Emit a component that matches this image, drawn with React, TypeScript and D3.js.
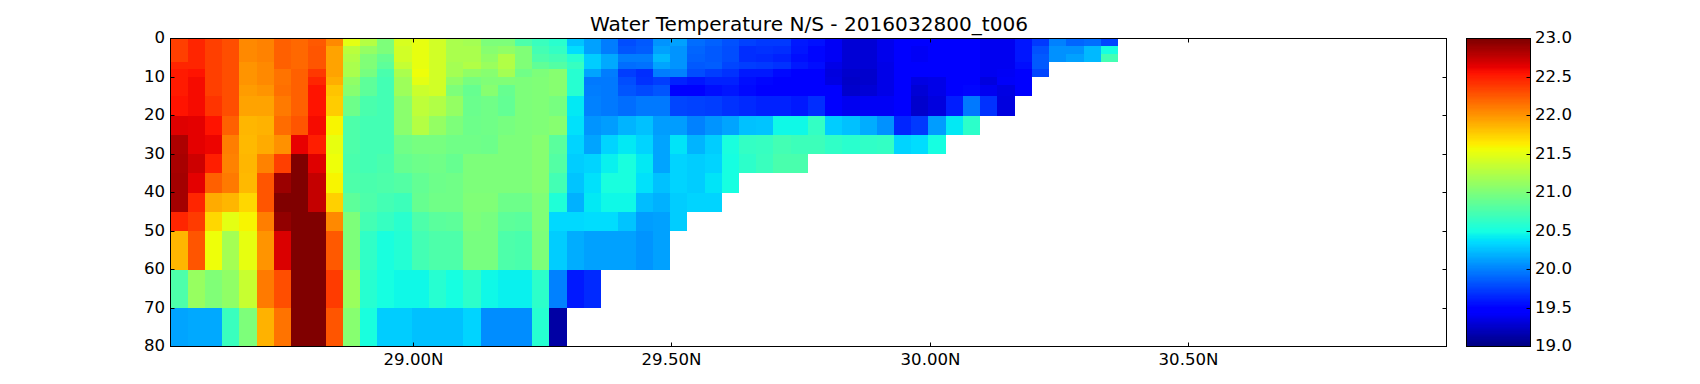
import React from "react";
import * as d3 from "d3";

const title = "Water Temperature N/S - 2016032800_t006";
const depthEdges = [0, 2, 4, 6, 8, 10, 12, 15, 20, 25, 30, 35, 40, 45, 50, 60, 70, 80];
const latStart = 28.531;
const latStep = 1 / 30;
const xTicks = [29, 29.5, 30, 30.5];
const yTicks = [0, 10, 20, 30, 40, 50, 60, 70, 80];
const cbTicks = [19, 19.5, 20, 20.5, 21, 21.5, 22, 22.5, 23];

const r00 = [22.37,22.47,22.37,22.30,22.05,22.08,22.22,22.20,22.25,22.05,21.50,21.27,21.00,21.45,21.53,21.42,21.22,21.20,21.00,21.00,20.78,20.68,20.60,20.27,20.13,19.99,19.81,19.85,20.09,20.13,19.93,19.89,19.82,19.75,19.73,19.73,19.60,19.57,19.42,19.30,19.30,19.38,19.45,19.44,19.44,19.44,19.44,19.40,19.40,19.58,19.73,20.00,19.90,19.93,19.77];
const r02 = [22.37,22.47,22.37,22.30,22.05,22.08,22.22,22.20,22.27,21.95,21.30,21.12,21.00,21.42,21.53,21.42,21.22,21.22,21.05,21.10,21.03,20.73,20.65,20.37,20.13,19.99,19.83,19.87,20.13,20.09,19.90,19.85,19.80,19.68,19.70,19.68,19.58,19.52,19.42,19.30,19.30,19.38,19.45,19.42,19.44,19.44,19.44,19.40,19.40,19.58,19.82,20.07,20.07,20.22,20.50];
const r04 = [22.37,22.47,22.37,22.30,22.05,22.08,22.22,22.20,22.27,21.95,21.25,21.02,20.90,21.42,21.53,21.42,21.22,21.22,21.10,21.25,21.03,20.78,20.72,20.58,20.30,20.17,19.99,19.99,20.23,20.09,19.89,19.85,19.80,19.68,19.66,19.63,19.55,19.52,19.42,19.30,19.30,19.38,19.45,19.42,19.44,19.44,19.44,19.40,19.40,19.58,19.85,20.07,20.13,20.22,20.72];
const r06 = [22.47,22.47,22.37,22.30,22.00,22.05,22.22,22.20,22.27,21.95,21.22,21.02,20.85,21.35,21.53,21.42,21.20,21.25,21.15,21.25,21.03,20.86,20.80,20.67,20.30,20.17,19.93,19.95,20.15,20.09,19.85,19.87,19.77,19.74,19.72,19.70,19.60,19.56,19.37,19.30,19.30,19.36,19.45,19.44,19.44,19.44,19.44,19.40,19.40,19.55,19.85];
const r08 = [22.53,22.55,22.37,22.30,22.00,22.05,22.15,22.23,22.40,21.95,21.22,20.97,20.75,21.23,21.55,21.42,21.20,21.10,21.05,21.20,20.95,21.00,21.05,20.58,20.15,19.99,19.74,19.68,19.99,20.01,19.81,19.74,19.70,19.60,19.60,19.54,19.47,19.45,19.33,19.27,19.28,19.36,19.45,19.44,19.44,19.48,19.46,19.40,19.42,19.45,19.78];
const r10 = [22.53,22.58,22.37,22.30,22.00,22.05,22.15,22.23,22.47,21.90,21.10,20.85,20.72,21.17,21.50,21.42,21.10,20.97,21.02,21.03,21.00,21.03,21.05,20.58,19.97,19.97,19.81,19.70,19.74,19.64,19.58,19.64,19.64,19.56,19.52,19.48,19.46,19.45,19.35,19.25,19.27,19.36,19.45,19.35,19.37,19.48,19.46,19.33,19.43,19.45];
const r12 = [22.53,22.58,22.37,22.30,21.98,22.00,22.17,22.23,22.55,21.80,21.05,20.85,20.72,21.17,21.38,21.42,21.00,20.90,21.05,20.90,21.00,21.03,21.05,20.58,19.99,19.97,19.83,19.79,19.83,19.50,19.46,19.56,19.58,19.54,19.50,19.48,19.46,19.45,19.46,19.27,19.30,19.36,19.45,19.30,19.37,19.48,19.53,19.40,19.35,19.44];
const r15 = [22.55,22.58,22.42,22.30,21.95,21.95,22.12,22.22,22.56,21.77,20.93,20.75,20.72,21.07,21.32,21.25,21.12,20.92,20.95,20.88,21.00,21.03,20.98,20.42,20.01,19.97,19.93,19.97,19.97,19.77,19.75,19.74,19.70,19.66,19.64,19.64,19.60,19.68,19.46,19.40,19.42,19.42,19.45,19.27,19.33,19.62,19.97,19.70,19.33];
const r20 = [22.66,22.65,22.55,22.22,21.87,21.88,22.18,22.28,22.58,21.60,20.78,20.73,20.72,21.07,21.27,21.12,21.00,20.93,20.95,20.98,21.00,21.03,21.05,20.38,20.09,20.11,20.21,20.26,20.11,20.11,20.01,20.09,20.15,20.26,20.28,20.47,20.47,20.65,20.30,20.25,20.18,20.07,19.65,19.72,20.12,20.42,20.62];
const r25 = [22.83,22.65,22.62,22.10,21.85,21.92,22.03,22.63,22.50,21.52,20.78,20.73,20.72,20.95,20.97,20.98,20.95,20.95,20.93,21.00,21.00,21.05,20.83,20.33,20.15,20.34,20.42,20.34,20.15,20.40,20.21,20.30,20.53,20.65,20.67,20.72,20.70,20.70,20.63,20.60,20.63,20.65,20.33,20.37,20.50];
const r30 = [22.85,22.72,22.50,22.08,21.87,22.08,22.37,23.00,22.66,21.55,20.75,20.72,20.75,20.90,20.93,20.95,20.90,21.00,21.00,21.00,21.00,21.05,20.80,20.30,20.34,20.44,20.53,20.42,20.15,20.34,20.30,20.34,20.50,20.62,20.68,20.75,20.75];
const r35 = [22.87,22.65,22.22,22.12,21.85,22.28,22.90,23.00,22.75,21.60,20.78,20.75,20.78,20.80,20.88,20.93,20.95,21.00,21.00,21.00,21.00,21.05,20.72,20.28,20.38,20.53,20.53,20.38,20.26,20.34,20.30,20.40,20.50];
const r40 = [22.87,22.47,21.92,21.87,21.73,22.27,23.00,23.00,22.76,21.75,20.85,20.78,20.73,20.70,20.90,20.95,20.95,21.02,21.02,20.93,20.93,21.03,20.55,20.20,20.42,20.48,20.48,20.24,20.20,20.31,20.33,20.34];
const r45 = [22.47,22.38,21.72,21.50,21.60,22.10,22.93,23.00,23.00,22.05,21.00,20.72,20.67,20.60,20.78,20.83,20.85,21.00,20.98,20.85,20.83,21.03,20.35,20.35,20.37,20.37,20.28,20.12,20.13,20.30];
const r50 = [21.87,22.27,21.55,21.20,21.52,22.00,22.68,23.00,23.00,22.25,21.00,20.63,20.53,20.57,20.72,20.77,20.78,20.98,20.98,20.77,20.75,21.00,20.30,20.18,20.13,20.13,20.13,20.08,20.13];
const r60 = [20.77,21.13,21.03,21.10,21.37,22.12,22.30,23.00,23.00,22.38,21.15,20.58,20.50,20.47,20.47,20.58,20.50,20.62,20.48,20.45,20.45,20.62,20.00,19.60,19.67];
const r70 = [20.15,20.17,20.17,20.68,21.00,21.88,22.15,23.00,23.00,22.28,21.05,20.52,20.30,20.30,20.26,20.26,20.25,20.33,20.05,20.05,20.05,20.58,19.13];
const rows = [r00, r02, r04, r06, r08, r10, r12, r15, r20, r25, r30, r35, r40, r45, r50, r60, r70];

const W = 1700, H = 384;
const plot = { l: 170.5, r: 1446.5, t: 38.5, b: 346.5 };
const cb = { l: 1466.5, r: 1530.5 };
const FONT = "'DejaVu Sans', sans-serif";
const TICK = 16.6;

const x = d3.scaleLinear().domain([latStart, 31]).range([plot.l, plot.r]);
const y = d3.scaleLinear().domain([0, 80]).range([plot.t, plot.b]);
const cy = d3.scaleLinear().domain([19, 23]).range([plot.b, plot.t]);

const jetR = d3.scaleLinear().domain([0, 0.35, 0.66, 0.89, 1]).range([0, 0, 1, 1, 0.5]).clamp(true);
const jetG = d3.scaleLinear().domain([0, 0.125, 0.375, 0.64, 0.91, 1]).range([0, 0, 1, 1, 0, 0]).clamp(true);
const jetB = d3.scaleLinear().domain([0, 0.11, 0.34, 0.65, 1]).range([0.5, 1, 1, 0, 0]).clamp(true);
const norm = d3.scaleLinear().domain([19, 23]).range([0, 1]).clamp(true);
const jet = (v: number) => {
  const t = Math.min(Math.floor(norm(v) * 256), 255) / 255;
  return d3.rgb(jetR(t) * 255, jetG(t) * 255, jetB(t) * 255).formatRgb();
};
const levels = d3.range(256).map((i) => 19 + (i / 256) * 4);
const fmtLat = (v: number) => d3.format(".2f")(v) + "N";

export default function App() {
  return (
    <svg width={W} height={H} viewBox={`0 0 ${W} ${H}`} style={{ position: "absolute", left: 0, top: 0, background: "#fff" }} fontFamily={FONT} fill="#000">
      <text x={(plot.l + plot.r) / 2 + 0.5} y={30.5} fontSize={20.1} textAnchor="middle">{title}</text>
      <g shapeRendering="crispEdges">
        {rows.map((row, ri) =>
          row.map((v, ci) => {
            const x0 = x(latStart + ci * latStep), x1 = x(latStart + (ci + 1) * latStep);
            const y0 = y(depthEdges[ri]), y1 = y(depthEdges[ri + 1]);
            return <rect key={`${ri}-${ci}`} x={x0} y={y0} width={x1 - x0} height={y1 - y0} fill={jet(v)} />;
          })
        )}
      </g>
      <rect x={plot.l} y={plot.t} width={plot.r - plot.l} height={plot.b - plot.t} fill="none" stroke="#000" strokeWidth={1} />
      {xTicks.map((t) => {
        const px = Math.round(x(t)) + 0.5;
        return (
          <g key={t}>
            <line x1={px} x2={px} y1={plot.t} y2={plot.t + 4} stroke="#000" />
            <line x1={px} x2={px} y1={plot.b} y2={plot.b - 4} stroke="#000" />
            <text x={px} y={365} fontSize={TICK} textAnchor="middle">{fmtLat(t)}</text>
          </g>
        );
      })}
      {yTicks.map((t) => {
        const py = Math.round(y(t) - 0.5) + 0.5;
        return (
          <g key={t}>
            <line x1={plot.l} x2={plot.l + 4} y1={py} y2={py} stroke="#000" />
            <line x1={plot.r} x2={plot.r - 4} y1={py} y2={py} stroke="#000" />
            <text x={165} y={py + 4.5} fontSize={TICK} textAnchor="end">{t}</text>
          </g>
        );
      })}
      <g shapeRendering="crispEdges">
        {levels.map((v, i) => (
          <rect key={i} x={cb.l} y={cy(v + 4 / 256)} width={cb.r - cb.l} height={cy(v) - cy(v + 4 / 256) + 0.5} fill={jet(v + 0.001)} />
        ))}
      </g>
      <rect x={cb.l} y={plot.t} width={cb.r - cb.l} height={plot.b - plot.t} fill="none" stroke="#000" />
      {cbTicks.map((t) => {
        const py = Math.round(cy(t) - 0.5) + 0.5;
        return (
          <g key={t}>
            <line x1={cb.r} x2={cb.r - 4} y1={py} y2={py} stroke="#000" />
            <text x={1535} y={py + 4.5} fontSize={TICK}>{d3.format(".1f")(t)}</text>
          </g>
        );
      })}
    </svg>
  );
}
